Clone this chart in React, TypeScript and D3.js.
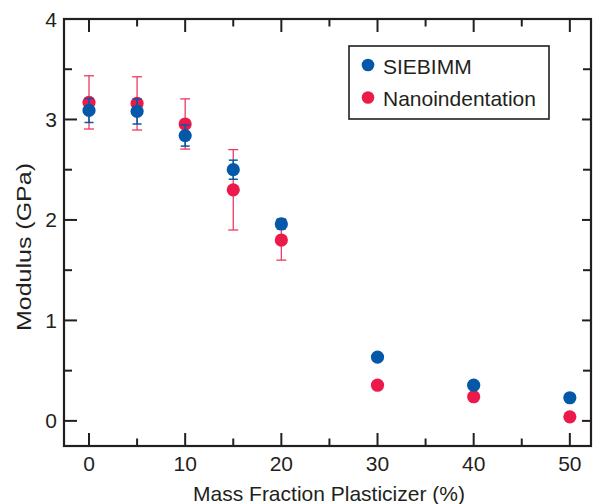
import * as d3 from 'd3';

// values
const fractions = [0, 5, 10, 15, 20, 30, 40, 50];
const siebimm = [3.09, 3.08, 2.84, 2.5, 1.96, 0.635, 0.355, 0.23];
const siebimmErr = [0.12, 0.125, 0.105, 0.095, 0.05, 0, 0, 0];
const nano = [3.17, 3.16, 2.955, 2.3, 1.8, 0.355, 0.24, 0.04];
const nanoErr = [0.265, 0.265, 0.25, 0.4, 0.2, 0.035, 0, 0];

const xMajor = [0, 10, 20, 30, 40, 50];
const xMinor = [5, 15, 25, 35, 45];
const yMajor = [0, 1, 2, 3, 4];
const yMinor = [0.5, 1.5, 2.5, 3.5];

const BLUE = '#0358a8';
const RED = '#ec1a4b';
const RED_BAR = '#ee3a62';
const INK = '#231f20';
const FONT = '"Liberation Sans", Arial, Helvetica, sans-serif';

const App = () => {
  const width = 594;
  const height = 504;
  const left = 64;
  const right = 591;
  const top = 19;
  const bottom = 446;

  const x = d3.scaleLinear().domain([-2.6, 52.2]).range([left, right]);
  const y = d3.scaleLinear().domain([-0.25, 4]).range([bottom, top]);

  const r = 6.6;

  const errorBars = (vals, errs, color, cap, sw) =>
    fractions.map((f, i) =>
      errs[i] > 0 ? (
        <g key={`e${i}`} stroke={color} strokeWidth={sw}>
          <line x1={x(f)} x2={x(f)} y1={y(vals[i] + errs[i])} y2={y(vals[i] - errs[i])} />
          <line x1={x(f) - cap} x2={x(f) + cap} y1={y(vals[i] + errs[i])} y2={y(vals[i] + errs[i])} />
          <line x1={x(f) - cap} x2={x(f) + cap} y1={y(vals[i] - errs[i])} y2={y(vals[i] - errs[i])} />
        </g>
      ) : null
    );

  return (
    <svg
      width={width}
      height={height}
      style={{ position: 'absolute', left: 0, top: 0, display: 'block', background: '#fff' }}
      fontFamily={FONT}
    >
      {/* ticks, all pointing inward */}
      <g stroke={INK} strokeWidth={2}>
        {xMajor.map(t => (
          <g key={`xm${t}`}>
            <line x1={x(t)} x2={x(t)} y1={bottom} y2={bottom - 13} />
            <line x1={x(t)} x2={x(t)} y1={top} y2={top + 13} />
          </g>
        ))}
        {xMinor.map(t => (
          <g key={`xn${t}`}>
            <line x1={x(t)} x2={x(t)} y1={bottom} y2={bottom - 7.5} />
            <line x1={x(t)} x2={x(t)} y1={top} y2={top + 7.5} />
          </g>
        ))}
        {yMajor.map(t => (
          <g key={`ym${t}`}>
            <line x1={left} x2={left + 13} y1={y(t)} y2={y(t)} />
            <line x1={right} x2={right - 9} y1={y(t)} y2={y(t)} />
          </g>
        ))}
        {yMinor.map(t => (
          <g key={`yn${t}`}>
            <line x1={left} x2={left + 8} y1={y(t)} y2={y(t)} />
            <line x1={right} x2={right - 8} y1={y(t)} y2={y(t)} />
          </g>
        ))}
      </g>

      {/* frame */}
      <rect x={left} y={top} width={right - left} height={bottom - top} fill="none" stroke={INK} strokeWidth={2.2} />

      {/* tick labels */}
      <g fontSize={21} fill={INK}>
        {xMajor.map(t => (
          <text key={`xl${t}`} x={x(t)} y={471} textAnchor="middle">{t}</text>
        ))}
        {yMajor.map(t => (
          <text key={`yl${t}`} x={57} y={y(t) + 7.5} textAnchor="end">{t}</text>
        ))}
      </g>

      {/* axis titles */}
      <text x={329} y={501} textAnchor="middle" fontSize={21} fill={INK}>
        Mass Fraction Plasticizer (%)
      </text>
      <text
        transform="translate(31,247) rotate(-90)"
        textAnchor="middle"
        fontSize={21}
        fill={INK}
        textLength={168}
        lengthAdjust="spacingAndGlyphs"
      >
        Modulus (GPa)
      </text>

      {/* data */}
      {errorBars(nano, nanoErr, RED_BAR, 5, 1.3)}
      {fractions.map((f, i) => (
        <circle key={`n${i}`} cx={x(f)} cy={y(nano[i])} r={r} fill={RED} />
      ))}
      {errorBars(siebimm, siebimmErr, BLUE, 4.5, 1.5)}
      {fractions.map((f, i) => (
        <circle key={`s${i}`} cx={x(f)} cy={y(siebimm[i])} r={r} fill={BLUE} />
      ))}

      {/* legend */}
      <rect x={349} y={46} width={200} height={73} fill="#fff" stroke={INK} strokeWidth={1.6} />
      <circle cx={368} cy={65} r={6.3} fill={BLUE} />
      <text x={383} y={74} fontSize={21} fill={INK}>SIEBIMM</text>
      <circle cx={368} cy={97.5} r={6.3} fill={RED} />
      <text x={383} y={106} fontSize={21} fill={INK}>Nanoindentation</text>
    </svg>
  );
};

export default App;
